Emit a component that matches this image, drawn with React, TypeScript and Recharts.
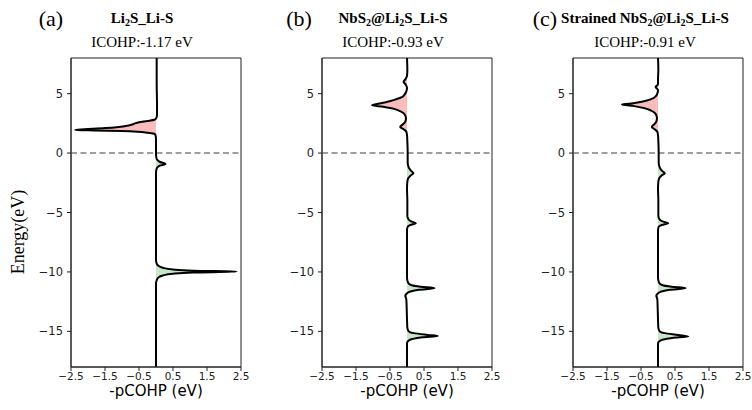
import React from 'react';
import { ComposedChart, Area, Line, XAxis, YAxis, ReferenceLine, ReferenceArea } from 'recharts';

// energies (eV) and -pCOHP values, top to bottom
const energyA = [8, 6, 4, 3.2, 2.9, 2.8, 2.7, 2.6, 2.5, 2.4, 2.3, 2.2, 2.1, 2.0, 1.95, 1.9, 1.85, 1.8, 1.72, 1.65, 1.55, 1.2, 0.5, 0, -0.4, -0.6, -0.75, -0.92, -1.05, -1.2, -1.4, -1.7, -3, -5, -7, -9, -9.3, -9.5, -9.65, -9.8, -9.9, -9.97, -10.05, -10.15, -10.3, -10.45, -10.7, -11, -13, -15, -18];
const cohpA = [0.02, 0.02, 0.03, 0.03, 0.0, -0.05, -0.25, -0.5, -0.62, -0.7, -0.85, -1.1, -1.5, -2.1, -2.38, -1.8, -1.0, -0.55, -0.25, -0.08, -0.02, 0, 0, 0, 0.01, 0.05, 0.12, 0.28, 0.12, 0.04, 0.01, 0, 0, 0, 0, 0, 0.02, 0.08, 0.2, 0.5, 1.1, 2.37, 1.1, 0.5, 0.2, 0.08, 0.02, 0, 0, 0, 0];

const energyB = [8, 7, 6.5, 6.2, 6.0, 5.8, 5.5, 5.2, 4.9, 4.7, 4.5, 4.3, 4.15, 4.03, 3.9, 3.75, 3.55, 3.35, 3.15, 2.9, 2.6, 2.4, 2.2, 2.0, 1.8, 1.5, 1.0, 0, -0.8, -1.2, -1.5, -1.7, -1.9, -2.1, -2.4, -3, -4, -5.3, -5.6, -5.75, -5.9, -6.05, -6.2, -6.5, -8, -10.5, -10.9, -11.1, -11.25, -11.37, -11.5, -11.65, -11.8, -12.0, -12.3, -13, -14, -14.7, -15.0, -15.15, -15.3, -15.4, -15.5, -15.65, -15.8, -16.0, -17, -18];
const cohpB = [0.0, 0.01, 0.0, -0.05, -0.1, -0.05, 0.0, -0.02, -0.08, -0.15, -0.35, -0.6, -0.85, -1.03, -0.7, -0.42, -0.22, -0.1, -0.05, -0.03, -0.06, -0.13, -0.2, -0.1, -0.02, 0.0, 0.01, 0.02, 0.02, 0.05, 0.12, 0.19, 0.1, 0.04, 0.01, 0.0, 0.01, 0.01, 0.05, 0.12, 0.26, 0.1, 0.02, 0, 0, 0.0, 0.03, 0.12, 0.4, 0.81, 0.35, 0.1, 0.0, -0.05, -0.02, -0.01, 0.0, 0.01, 0.05, 0.2, 0.6, 0.91, 0.45, 0.15, 0.04, 0.0, 0, 0];

const energyC = [8, 7, 6.2, 5.8, 5.55, 5.3, 5.0, 4.8, 4.6, 4.4, 4.25, 4.15, 4.09, 3.95, 3.8, 3.6, 3.4, 3.2, 2.9, 2.6, 2.4, 2.2, 2.0, 1.8, 1.5, 1.0, 0, -0.8, -1.2, -1.5, -1.7, -1.9, -2.1, -2.4, -3, -4, -5.3, -5.6, -5.75, -5.9, -6.05, -6.2, -6.5, -8, -10.5, -10.9, -11.1, -11.25, -11.37, -11.5, -11.65, -11.8, -12.0, -12.3, -13, -14, -14.7, -15.0, -15.15, -15.3, -15.43, -15.55, -15.7, -15.85, -16.05, -17, -18];
const cohpC = [0.0, 0.01, 0.0, 0.0, -0.07, 0.0, -0.02, -0.06, -0.15, -0.35, -0.6, -0.85, -1.06, -0.7, -0.42, -0.22, -0.1, -0.05, -0.03, -0.06, -0.12, -0.18, -0.1, -0.02, 0.0, 0.01, 0.02, 0.02, 0.05, 0.12, 0.2, 0.1, 0.04, 0.01, 0.0, 0.01, 0.01, 0.05, 0.13, 0.3, 0.11, 0.02, 0, 0, 0.0, 0.03, 0.12, 0.4, 0.81, 0.35, 0.1, 0.0, -0.05, -0.02, -0.01, 0.0, 0.01, 0.05, 0.2, 0.6, 0.89, 0.42, 0.13, 0.03, 0.0, 0, 0];

const xTicks = [-2.5, -1.5, -0.5, 0.5, 1.5, 2.5];
const yTicks = [-15, -10, -5, 0, 5];

const panels = [
  { tag: '(a)', title: ['Li', '2', 'S_Li-S'], icohp: 'ICOHP:-1.17 eV', energy: energyA, cohp: cohpA },
  { tag: '(b)', title: ['NbS', '2', '@Li', '2', 'S_Li-S'], icohp: 'ICOHP:-0.93 eV', energy: energyB, cohp: cohpB },
  { tag: '(c)', title: ['Strained NbS', '2', '@Li', '2', 'S_Li-S'], icohp: 'ICOHP:-0.91 eV', energy: energyC, cohp: cohpC },
];

const serif = '"Liberation Serif", "Times New Roman", serif';
const sans = '"DejaVu Sans", sans-serif';
const minus = (v: number) => String(v).replace('-', '\u2212');

const CHART_W = 250;
const PLOT_W = 170;

// header positions per panel
const tagX = [51, 299, 545];
const titleX = [142, 393, 645];

const Panel = ({ energy, cohp }: { energy: number[]; cohp: number[] }) => {
  const data = energy.map((e, i) => ({
    e,
    v: cohp[i],
    neg: Math.min(cohp[i], 0),
    pos: Math.max(cohp[i], 0),
  }));
  return (
    <ComposedChart
      width={CHART_W}
      height={410}
      data={data}
      layout="vertical"
      margin={{ top: 58, right: CHART_W - 71 - PLOT_W, left: 31, bottom: 0 }}
    >
      <XAxis
        type="number"
        domain={[-2.5, 2.5]}
        ticks={xTicks}
        tickFormatter={minus}
        allowDataOverflow
        height={43}
        tickSize={4}
        tickMargin={2}
        axisLine={{ stroke: '#222' }}
        tickLine={{ stroke: '#222' }}
        tick={{ fill: '#222', fontSize: 10.5, fontFamily: sans }}
        interval={0}
      />
      <YAxis
        type="number"
        dataKey="e"
        domain={[-18, 8]}
        ticks={yTicks}
        tickFormatter={minus}
        reversed
        allowDataOverflow
        width={40}
        tickSize={4}
        tickMargin={4}
        axisLine={{ stroke: '#222' }}
        tickLine={{ stroke: '#222' }}
        tick={{ fill: '#222', fontSize: 11.5, fontFamily: sans }}
        interval={0}
      />
      <Area dataKey="neg" type="monotone" baseValue={0} fill="#f9bcbc" fillOpacity={1} stroke="none" isAnimationActive={false} />
      <Area dataKey="pos" type="monotone" baseValue={0} fill="#c9e6c9" fillOpacity={1} stroke="none" isAnimationActive={false} />
      <ReferenceLine y={0} stroke="#7f7f7f" strokeWidth={1.5} strokeDasharray="6 3.5" />
      <Line dataKey="v" type="monotone" stroke="#000" strokeWidth={2} dot={false} activeDot={false} isAnimationActive={false} />
      <ReferenceArea x1={-2.5} x2={2.5} y1={-18} y2={8} fill="none" stroke="#222" strokeWidth={1} ifOverflow="visible" />
    </ComposedChart>
  );
};

const App = () => (
  <div style={{ position: 'absolute', left: 0, top: 0, width: 752, height: 410, background: '#fff' }}>
    {panels.map((p, i) => (
      <div key={p.tag} style={{ position: 'absolute', left: i * 251, top: 0 }}>
        <Panel energy={p.energy} cohp={p.cohp} />
      </div>
    ))}
    <svg width={752} height={410} style={{ position: 'absolute', left: 0, top: 0, pointerEvents: 'none' }}>
      {panels.map((p, i) => {
        const plotCenter = i * 251 + 71 + PLOT_W / 2;
        return (
          <g key={p.tag}>
            <text x={tagX[i]} y={26} textAnchor="middle" fontFamily={serif} fontSize={22} fill="#000">
              {p.tag}
            </text>
            <text x={titleX[i]} y={23} textAnchor="middle" fontFamily={serif} fontSize={15} fontWeight="bold" fill="#000">
              {p.title.map((s, k) =>
                s === '2' ? (
                  <tspan key={k} dy={3} fontSize={10}>2</tspan>
                ) : (
                  <tspan key={k} dy={k > 0 ? -3 : 0}>{s}</tspan>
                )
              )}
            </text>
            <text x={titleX[i]} y={47} textAnchor="middle" fontFamily={serif} fontSize={15} fill="#000">
              {p.icohp}
            </text>
            <text x={plotCenter} y={396} textAnchor="middle" fontFamily={sans} fontSize={15} fill="#000">
              -pCOHP (eV)
            </text>
          </g>
        );
      })}
      <text
        x={18}
        y={232}
        transform="rotate(-90 18 232)"
        textAnchor="middle"
        dominantBaseline="central"
        fontFamily={serif}
        fontSize={18}
        fill="#000"
      >
        Energy(eV)
      </text>
    </svg>
  </div>
);

export default App;
